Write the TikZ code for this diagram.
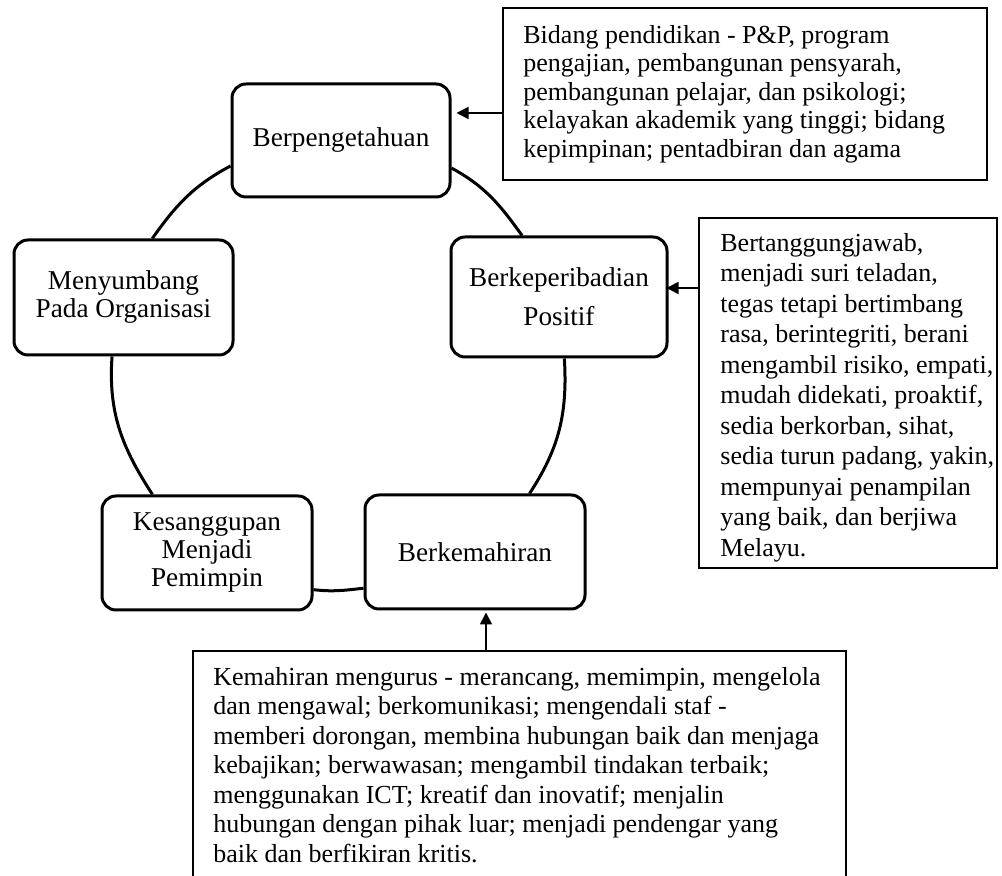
\documentclass[tikz,border=0pt]{standalone}
\usepackage{fontspec}
\setmainfont{Liberation Serif}
\usetikzlibrary{arrows.meta}
\begin{document}
\begin{tikzpicture}[x=0.5pt,y=0.5pt,
  kbox/.style={draw, line width=1.5pt, rounded corners=7pt, align=center,
    font=\fontsize{13.6}{14}\selectfont, inner sep=0pt, fill=white},
  tbox/.style={draw, line width=0.9pt, inner sep=0pt},
  btext/.style={anchor=north west, inner sep=0pt, align=left},
  conn/.style={line width=1.5pt},
  arr/.style={line width=0.8pt, -{Triangle[length=6pt,width=6pt]}}]
\useasboundingbox (0,0) rectangle (1002,876);
\clip (0,0) rectangle (1002,876);
\fill[white] (0,0) rectangle (1002,876);

% circle nodes
\node[kbox, minimum width=109pt, minimum height=56.5pt] (kn) at (341,735.5) {Berpengetahuan};
\node[kbox, minimum width=108pt, minimum height=60pt] (kp) at (559,579) {Berkeperibadian\\[5.5pt]Positif};
\node[kbox, minimum width=109.5pt, minimum height=57.5pt] (km) at (123.5,578.5) {Menyumbang\\Pada Organisasi};
\node[kbox, minimum width=105pt, minimum height=57pt] (kk) at (207,323) {Kesanggupan\\Menjadi\\Pemimpin};
\node[kbox, minimum width=110pt, minimum height=57pt] (kb) at (475,324) {Berkemahiran};

% circle connectors
\draw[conn] (kn.-14.4) to[out=-28.6, in=125.7] (kp.121);
\draw[conn] (kn.193.4) to[out=208, in=54.6] (km.64.4);
\draw[conn] (km.259.6) to[out=266, in=123] (kk.133);
\draw[conn] (kk.-19.4) to[out=-6.7, in=186.5] (kb.198.3);
\draw[conn] (kb.47) to[out=56.7, in=-86.7] (kp.-85.2);

% description boxes
\node[tbox, minimum width=242pt, minimum height=86pt] (tb) at (745,782) {};
\node[tbox, minimum width=149pt, minimum height=175pt] (rb) at (848,483) {};
\node[tbox, minimum width=326.5pt, minimum height=119.5pt] (bb) at (519.5,105.5) {};

\node[btext, font=\fontsize{13}{14.25}\selectfont] (tbt) at (523,853) {\strut Bidang pendidikan - P\&P, program\\
pengajian, pembangunan pensyarah,\\
pembangunan pelajar, dan psikologi;\\
kelayakan akademik yang tinggi; bidang\\
kepimpinan; pentadbiran dan agama};

\node[btext, font=\fontsize{13}{15.25}\selectfont] (rbt) at (720,646.4) {\strut Bertanggungjawab,\\
menjadi suri teladan,\\
tegas tetapi bertimbang\\
rasa, berintegriti, berani\\
mengambil risiko, empati,\\
mudah didekati, proaktif,\\
sedia berkorban, sihat,\\
sedia turun padang, yakin,\\
mempunyai penampilan\\
yang baik, dan berjiwa\\
Melayu.};

\node[btext, font=\fontsize{13}{14.75}\selectfont] (bbt) at (213,211.6) {\strut Kemahiran mengurus - merancang, memimpin, mengelola\\
dan mengawal; berkomunikasi; mengendali staf -\\
memberi dorongan, membina hubungan baik dan menjaga\\
kebajikan; berwawasan; mengambil tindakan terbaik;\\
menggunakan ICT; kreatif dan inovatif; menjalin\\
hubungan dengan pihak luar; menjadi pendengar yang\\
baik dan berfikiran kritis.};

% arrows
\coordinate (a1) at ([yshift=-9.5pt]tb.west);
\draw[arr, shorten >=2.5pt] (a1) -- (a1 -| kn.east);
\coordinate (a2) at ([yshift=52.5pt]rb.west);
\draw[arr, shorten >=-1pt] (a2) -- (a2 -| kp.east);
\coordinate (a3) at ([xshift=-16.75pt]bb.north);
\draw[arr, shorten >=1pt] (a3) -- (a3 |- kb.south);
\end{tikzpicture}
\end{document}
